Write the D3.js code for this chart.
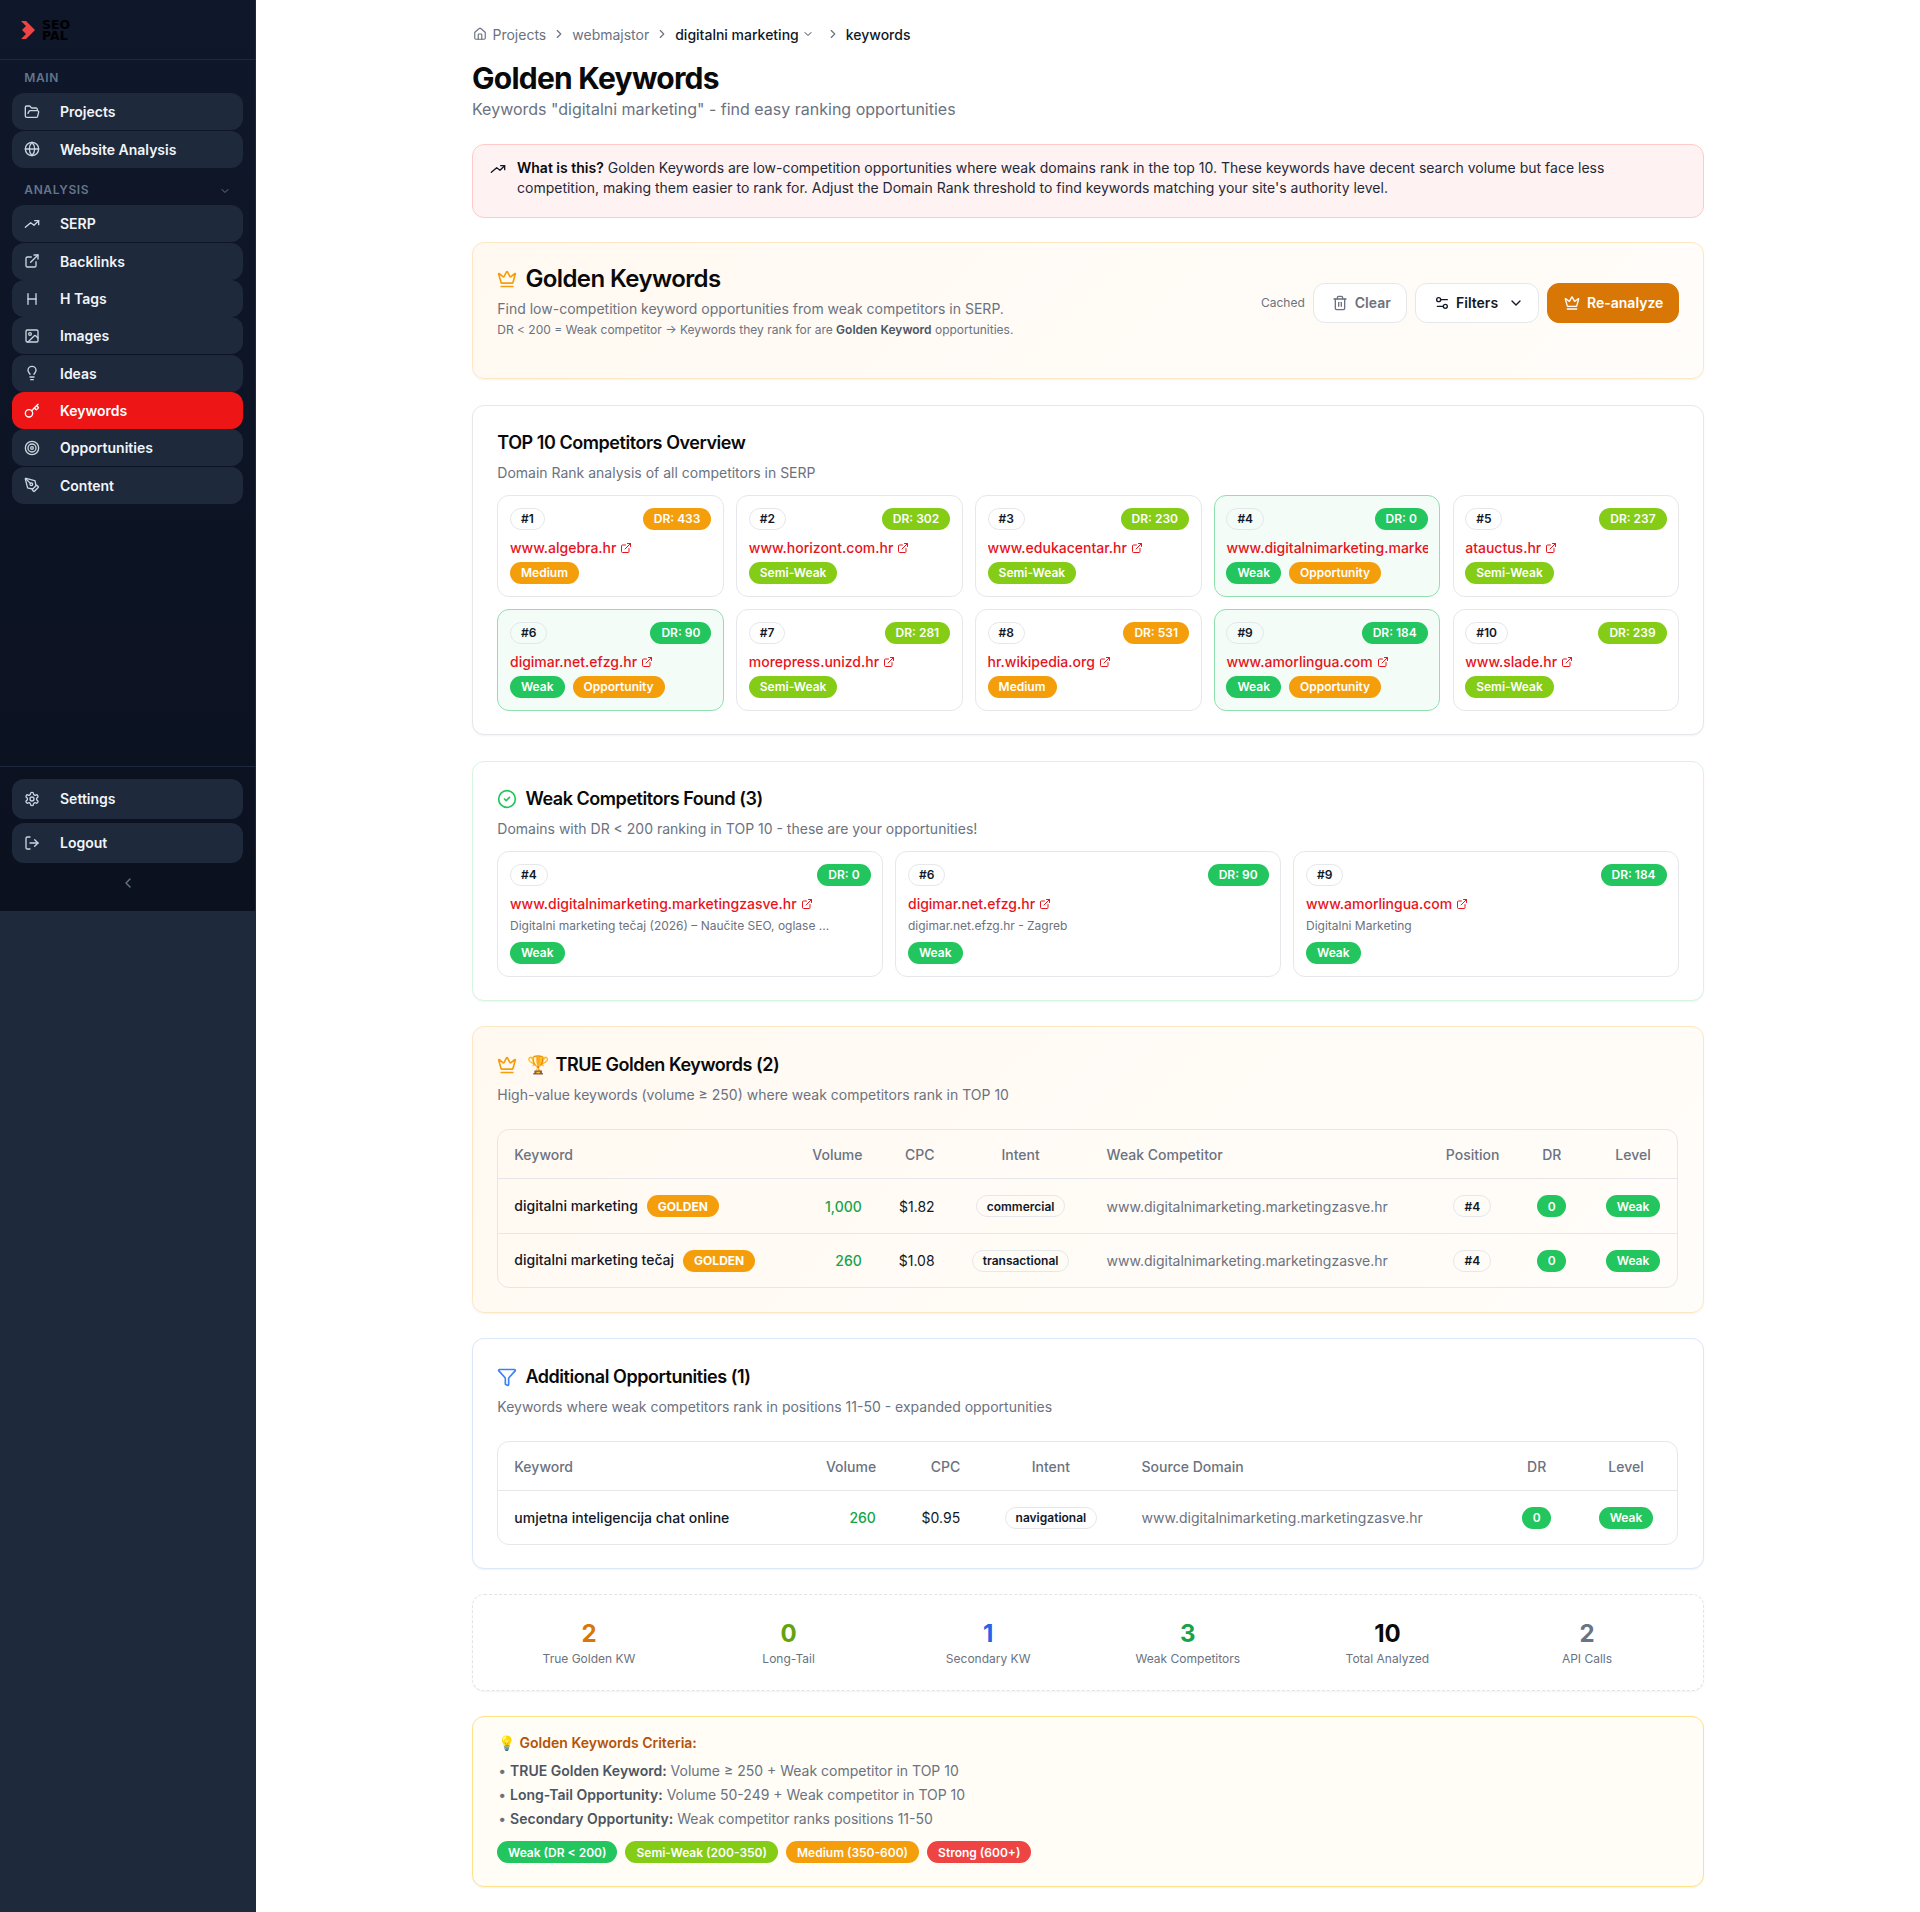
<!DOCTYPE html>
<html>
<head>
<meta charset="utf-8">
<title>Golden Keywords</title>
<script src="https://cdn.jsdelivr.net/npm/d3@7"></script>
<style>
html, body { margin: 0; padding: 0; background: #fff; }
body { font-family: Inter, "Noto Sans", sans-serif; color: #111827; }
#page { position: relative; width: 1920px; height: 1912px; overflow: hidden; background: #fff; }
#page * { box-sizing: border-box; }
.abs { position: absolute; }
.txt { position: absolute; white-space: nowrap; }
svg.ic { fill: none; stroke: currentColor; stroke-width: 2; stroke-linecap: round; stroke-linejoin: round; flex: none; display: block; }
.navitem { position: absolute; left: 12px; width: 231px; height: 37px; border-radius: 12px; background: #1e293b; color: #f1f5f9; font-size: 14px; font-weight: 600; line-height: 37px; }
.navitem.active { background: #ed1515; color: #fff; }
.navitem svg { position: absolute; left: 24px; top: 10px; margin-left: -12px; color: #cbd5e1; }
.navitem.active svg { color: #fff; }
.navitem span { position: absolute; left: 48px; }
.navhead { font-size: 12px; font-weight: 600; letter-spacing: .6px; color: #64748b; }
.card { position: absolute; left: 472px; width: 1231.5px; border: 1px solid #e5e7eb; border-radius: 12px; background: #fff; box-shadow: 0 1px 2px rgba(0,0,0,.05); }
.warm { background: linear-gradient(135deg, #fff9f1 0%, #fffdfa 100%); border-color: #fde6c4; }
.title { font-size: 18px; font-weight: 600; letter-spacing: -.45px; color: #0a0a0a; }
.sub { font-size: 14px; color: #6b7280; }
.pill { display: inline-flex; align-items: center; height: 22px; padding: 0 11px; border-radius: 11px; font-size: 12px; font-weight: 600; color: #fff; white-space: nowrap; }
.pill.outline { border: 1px solid #e5e7eb; color: #111827; padding: 0 10px; background: transparent; }
.comp { position: absolute; border: 1px solid #e5e7eb; border-radius: 12px; background: #fff; padding: 11.7px; }
.comp.hot { background: #f3fcf7; border-color: #8fe0ad; }
.head { display: flex; justify-content: space-between; height: 22px; }
.domain { margin-top: 8px; height: 20px; line-height: 20px; font-size: 14px; font-weight: 500; color: #e8141c; white-space: nowrap; overflow: hidden; }
.domain svg { display: inline-block; vertical-align: -1px; margin-left: 4px; }
.desc { margin-top: 3.7px; height: 16px; line-height: 16px; font-size: 12px; color: #6b7280; white-space: nowrap; }
.badges { display: flex; gap: 8px; margin-top: 4px; }
.desc + .badges { margin-top: 8.3px; }
.tablewrap { position: absolute; left: 497.3px; width: 1181px; border: 1px solid #e5e7eb; border-radius: 12px; overflow: hidden; }
table { border-collapse: separate; border-spacing: 0; table-layout: fixed; width: 1179px; font-size: 14px; }
th { font-weight: 500; color: #6b7280; height: 49px; padding: 0 16px; border-bottom: 1px solid #e5e7eb; }
td { padding: 0 16px; height: 55px; border-bottom: 1px solid #e5e7eb; white-space: nowrap; }
tr:last-child td { border-bottom: 0; height: 53px; }
.l { text-align: left; } .r { text-align: right; } .c { text-align: center; }
.kw { font-weight: 500; color: #111827; }
.kw .pill { margin-left: 9px; font-weight: 700; }
.vol { color: #16a34a; font-weight: 500; }
.src { color: #6b7280; }
.btn { position: absolute; top: 283.3px; height: 39.4px; border-radius: 12px; border: 1px solid #e5e7eb; background: #fff; display: flex; align-items: center; font-size: 14px; font-weight: 600; }
.stat { position: absolute; text-align: center; }
.stat b { display: block; height: 30px; line-height: 30px; font-size: 24px; font-weight: 700; }
.stat span { display: block; height: 16px; margin-top: 2px; line-height: 16px; font-size: 12px; color: #6b7280; }
.crit { font-size: 14px; color: #6b7280; }
.crit b { font-weight: 600; color: #4b5563; }
#legend { position: absolute; left: 497px; top: 1841px; display: flex; gap: 8px; }
</style>
</head>
<body>
<div id="page"></div>
<script>
// sidebar
var mainNav = ["Projects", "Website Analysis"];
var mainIcons = ["folder", "globe"];
var analysisNav = ["SERP", "Backlinks", "H Tags", "Images", "Ideas", "Keywords", "Opportunities", "Content"];
var analysisIcons = ["trend", "external", "heading", "image", "bulb", "key", "target", "pen"];
var activeNav = "Keywords";
var bottomNav = ["Settings", "Logout"];
var bottomIcons = ["gear", "logout"];

// competitors
var competitorRanks = [1, 2, 3, 4, 5, 6, 7, 8, 9, 10];
var competitorDomains = ["www.algebra.hr", "www.horizont.com.hr", "www.edukacentar.hr", "www.digitalnimarketing.marketingzasve.hr", "atauctus.hr", "digimar.net.efzg.hr", "morepress.unizd.hr", "hr.wikipedia.org", "www.amorlingua.com", "www.slade.hr"];
var competitorDR = [433, 302, 230, 0, 237, 90, 281, 531, 184, 239];

var weakRanks = [4, 6, 9];
var weakDescriptions = ["Digitalni marketing tečaj (2026) – Naučite SEO, oglase ...", "digimar.net.efzg.hr - Zagreb", "Digitalni Marketing"];

// true golden table
var goldenHeaders = ["Keyword", "Volume", "CPC", "Intent", "Weak Competitor", "Position", "DR", "Level"];
var goldenKeywords = ["digitalni marketing", "digitalni marketing tečaj"];
var goldenVolumes = [1000, 260];
var goldenCpc = [1.82, 1.08];
var goldenIntents = ["commercial", "transactional"];
var goldenSource = "www.digitalnimarketing.marketingzasve.hr";
var goldenPositions = [4, 4];
var goldenDR = [0, 0];

// additional table
var extraHeaders = ["Keyword", "Volume", "CPC", "Intent", "Source Domain", "DR", "Level"];
var extraKeywords = ["umjetna inteligencija chat online"];
var extraVolumes = [260];
var extraCpc = [0.95];
var extraIntents = ["navigational"];
var extraSources = ["www.digitalnimarketing.marketingzasve.hr"];
var extraDR = [0];

// summary row
var statLabels = ["True Golden KW", "Long-Tail", "Secondary KW", "Weak Competitors", "Total Analyzed", "API Calls"];
var statValues = [2, 0, 1, 3, 10, 2];
var statColors = ["#d97706", "#65a30d", "#2563eb", "#16a34a", "#0a0a0a", "#6b7280"];

var criteria = [
	["TRUE Golden Keyword:", "Volume ≥ 250 + Weak competitor in TOP 10"],
	["Long-Tail Opportunity:", "Volume 50-249 + Weak competitor in TOP 10"],
	["Secondary Opportunity:", "Weak competitor ranks positions 11-50"]
];
var legendLabels = ["Weak (DR < 200)", "Semi-Weak (200-350)", "Medium (350-600)", "Strong (600+)"];
var legendLevels = ["Weak", "Semi-Weak", "Medium", "Strong"];

var levelColor = d3.scaleOrdinal()
	.domain(["Weak", "Semi-Weak", "Medium", "Strong"])
	.range(["#22c55e", "#84cc16", "#f59e0b", "#ef4444"]);
var levelOf = d3.scaleThreshold()
	.domain([200, 350, 600])
	.range(["Weak", "Semi-Weak", "Medium", "Strong"]);

var icons = {
	folder: '<path d="m6 14 1.5-2.9A2 2 0 0 1 9.24 10H20a2 2 0 0 1 1.94 2.5l-1.54 6a2 2 0 0 1-1.95 1.5H4a2 2 0 0 1-2-2V5a2 2 0 0 1 2-2h3.9a2 2 0 0 1 1.69.9l.81 1.2a2 2 0 0 0 1.67.9H18a2 2 0 0 1 2 2v2"/>',
	globe: '<circle cx="12" cy="12" r="10"/><path d="M12 2a14.5 14.5 0 0 0 0 20 14.5 14.5 0 0 0 0-20"/><path d="M2 12h20"/>',
	trend: '<path d="M22 7 15 14 10 10 2 17"/><path d="M16 7h6v6"/>',
	external: '<path d="M15 3h6v6"/><path d="M10 14 21 3"/><path d="M18 13v6a2 2 0 0 1-2 2H5a2 2 0 0 1-2-2V8a2 2 0 0 1 2-2h6"/>',
	heading: '<path d="M6 12h12"/><path d="M6 20V4"/><path d="M18 20V4"/>',
	image: '<rect x="3" y="3" width="18" height="18" rx="2"/><circle cx="9" cy="9" r="2"/><path d="m21 15-3.086-3.086a2 2 0 0 0-2.828 0L6 21"/>',
	bulb: '<path d="M15 14c.2-1 .7-1.7 1.5-2.5 1-.9 1.5-2.2 1.5-3.5A6 6 0 0 0 6 8c0 1 .2 2.2 1.5 3.5.7.7 1.3 1.5 1.5 2.5"/><path d="M9 18h6"/><path d="M10 22h4"/>',
	key: '<path d="m15.5 7.5 2.3 2.3a1 1 0 0 0 1.4 0l2.1-2.1a1 1 0 0 0 0-1.4L19 4"/><path d="m21 2-9.6 9.6"/><circle cx="7.5" cy="15.5" r="5.5"/>',
	target: '<circle cx="12" cy="12" r="10"/><circle cx="12" cy="12" r="6"/><circle cx="12" cy="12" r="2"/>',
	pen: '<path d="M15.707 21.293a1 1 0 0 1-1.414 0l-1.586-1.586a1 1 0 0 1 0-1.414l5.586-5.586a1 1 0 0 1 1.414 0l1.586 1.586a1 1 0 0 1 0 1.414z"/><path d="m18 13-1.375-6.874a1 1 0 0 0-.746-.776L3.235 2.028a1 1 0 0 0-1.207 1.207L5.35 15.879a1 1 0 0 0 .776.746L13 18"/><path d="m2.3 2.3 7.286 7.286"/><circle cx="11" cy="11" r="2"/>',
	gear: '<path d="M12.22 2h-.44a2 2 0 0 0-2 2v.18a2 2 0 0 1-1 1.73l-.43.25a2 2 0 0 1-2 0l-.15-.08a2 2 0 0 0-2.73.73l-.22.38a2 2 0 0 0 .73 2.73l.15.1a2 2 0 0 1 1 1.72v.51a2 2 0 0 1-1 1.74l-.15.09a2 2 0 0 0-.73 2.73l.22.38a2 2 0 0 0 2.73.73l.15-.08a2 2 0 0 1 2 0l.43.25a2 2 0 0 1 1 1.73V20a2 2 0 0 0 2 2h.44a2 2 0 0 0 2-2v-.18a2 2 0 0 1 1-1.73l.43-.25a2 2 0 0 1 2 0l.15.08a2 2 0 0 0 2.73-.73l.22-.39a2 2 0 0 0-.73-2.73l-.15-.08a2 2 0 0 1-1-1.74v-.5a2 2 0 0 1 1-1.74l.15-.09a2 2 0 0 0 .73-2.73l-.22-.38a2 2 0 0 0-2.73-.73l-.15.08a2 2 0 0 1-2 0l-.43-.25a2 2 0 0 1-1-1.73V4a2 2 0 0 0-2-2z"/><circle cx="12" cy="12" r="3"/>',
	logout: '<path d="M9 21H5a2 2 0 0 1-2-2V5a2 2 0 0 1 2-2h4"/><path d="m16 17 5-5-5-5"/><path d="M21 12H9"/>',
	home: '<path d="M15 21v-8a1 1 0 0 0-1-1h-4a1 1 0 0 0-1 1v8"/><path d="M3 10a2 2 0 0 1 .709-1.528l7-5.999a2 2 0 0 1 2.582 0l7 5.999A2 2 0 0 1 21 10v9a2 2 0 0 1-2 2H5a2 2 0 0 1-2-2z"/>',
	right: '<path d="m9 18 6-6-6-6"/>',
	down: '<path d="m6 9 6 6 6-6"/>',
	left: '<path d="m15 18-6-6 6-6"/>',
	crown: '<path d="M11.562 3.266a.5.5 0 0 1 .876 0L15.39 8.87a1 1 0 0 0 1.516.294L21.183 5.5a.5.5 0 0 1 .798.519l-2.834 10.246a1 1 0 0 1-.956.734H5.81a1 1 0 0 1-.957-.734L2.02 6.02a.5.5 0 0 1 .798-.519l4.276 3.664a1 1 0 0 0 1.516-.294z"/><path d="M5 21h14"/>',
	trash: '<path d="M3 6h18"/><path d="M19 6v14c0 1-1 2-2 2H7c-1 0-2-1-2-2V6"/><path d="M8 6V4c0-1 1-2 2-2h4c1 0 2 1 2 2v2"/><path d="M10 11v6"/><path d="M14 11v6"/>',
	sliders: '<path d="M20 7h-9"/><path d="M14 17H5"/><circle cx="17" cy="17" r="3"/><circle cx="7" cy="7" r="3"/>',
	check: '<circle cx="12" cy="12" r="10"/><path d="m9 12 2 2 4-4"/>',
	funnel: '<path d="M10 20a1 1 0 0 0 .553.895l2 1A1 1 0 0 0 14 21v-7a2 2 0 0 1 .517-1.341L21.74 4.67A1 1 0 0 0 21 3H3a1 1 0 0 0-.742 1.67l7.225 7.989A2 2 0 0 1 10 14z"/>'
};

var page = d3.select("#page");

function iconHtml(name, size, color) {
	return '<svg class="ic" viewBox="0 0 24 24" width="' + size + '" height="' + size + '"' +
		(color ? ' style="color:' + color + '"' : '') + '>' + icons[name] + '</svg>';
}

function iconAt(x, cy, name, size, color) {
	return page.append("div").attr("class", "abs")
		.style("left", x + "px").style("top", (cy - size / 2) + "px")
		.html(iconHtml(name, size, color));
}

// text line placed by its vertical center
function label(x, cy, html, cls, lh) {
	lh = lh || 20;
	return page.append("div").attr("class", "txt " + (cls || ""))
		.style("left", x + "px")
		.style("top", (cy - lh / 2) + "px")
		.style("line-height", lh + "px")
		.html(html);
}

function card(top, bottom, cls) {
	return page.append("div").attr("class", "card " + (cls || ""))
		.style("top", top + "px").style("height", (bottom - top) + "px");
}

function pill(sel, text, color) {
	sel.append("span").attr("class", "pill")
		.style("background", color).text(text);
}

function rankPill(sel, rank) {
	sel.append("span").attr("class", "pill outline").text("#" + rank);
}

/* ---------- sidebar ---------- */
page.append("div").attr("class", "abs")
	.style("left", 0).style("top", "911px").style("width", "256px").style("height", "1001px")
	.style("background", "#1e293b");
page.append("div").attr("class", "abs")
	.style("left", 0).style("top", 0).style("width", "256px").style("height", "911px")
	.style("background", "linear-gradient(180deg,#0f172a 0%,#0b111f 100%)")
	.style("border-right", "1px solid #1e293b");
page.append("div").attr("class", "abs")
	.style("left", 0).style("top", "59px").style("width", "255px").style("height", "1px").style("background", "#1e293b");
page.append("div").attr("class", "abs")
	.style("left", 0).style("top", "766px").style("width", "255px").style("height", "1px").style("background", "#1e293b");

// logo
page.append("div").attr("class", "abs")
	.style("left", "20px").style("top", "20px")
	.html('<svg width="16" height="20" viewBox="0 0 16 20"><path d="M1 1h5l9 9-9 9H1l5-5-4-4 4-4z" fill="#ef4444"/></svg>');
label(42, 24.5, "SEO", "", 11).style("font", "800 12.5px/11px 'DejaVu Sans'").style("color", "#000");
label(42, 35, "PAL", "", 11).style("font", "800 12.5px/11px 'DejaVu Sans'").style("color", "#000");

label(24.3, 78, "MAIN", "navhead");
label(24.3, 190, "ANALYSIS", "navhead");
iconAt(219, 190.5, "down", 12, "#64748b");

function navGroup(names, iconNames, y, height) {
	page.selectAll(null)
		.data(names)
		.enter().append("div")
		.attr("class", function(d) { return d === activeNav ? "navitem active" : "navitem"; })
		.style("top", function(d, i) { return y(i) + "px"; })
		.style("height", height + "px")
		.style("line-height", height + "px")
		.html(function(d, i) {
			return iconHtml(iconNames[i], 16).replace("<svg", '<svg style="top:' + (height - 16) / 2 + 'px"') + "<span>" + d + "</span>";
		});
}

var navStep = d3.scaleLinear().domain([0, 1]);
navGroup(mainNav, mainIcons, navStep.copy().range([93.3, 130.65]), 37);
navGroup(analysisNav, analysisIcons, navStep.copy().range([205.3, 242.65]), 37);
navGroup(bottomNav, bottomIcons, navStep.copy().range([779, 823]), 40);
iconAt(120, 883, "left", 16, "#64748b");

/* ---------- header ---------- */
var crumbs = page.append("div").attr("class", "abs")
	.style("left", "472.5px").style("top", "24px").style("height", "20px")
	.style("display", "flex").style("align-items", "center").style("gap", "6px")
	.style("font-size", "14px").style("color", "#6b7280");
crumbs.html(iconHtml("home", 14) +
	'<span>Projects</span>' + iconHtml("right", 14) +
	'<span>webmajstor</span>' + iconHtml("right", 14) +
	'<span style="color:#111827;font-weight:500;margin-right:-3px">digitalni marketing</span>' + iconHtml("down", 12, "#374151") +
	'<span style="width:0"></span>' + iconHtml("right", 14) +
	'<span style="color:#111827;font-weight:500">keywords</span>');

label(472, 77.7, "Golden Keywords", "", 36)
	.style("font-size", "30px").style("font-weight", "700").style("letter-spacing", "-.75px").style("color", "#0a0a0a");
label(472, 108.7, 'Keywords "digitalni marketing" - find easy ranking opportunities', "", 24)
	.style("font-size", "16px").style("color", "#6b7280");

/* ---------- alert ---------- */
page.append("div").attr("class", "abs")
	.style("left", "472px").style("top", "144.3px").style("width", "1231.5px").style("height", "73.4px")
	.style("background", "#fef2f2").style("border", "1px solid #fecaca").style("border-radius", "12px");
iconAt(490, 169, "trend", 16, "#111827");
label(517, 168, "<b style='font-weight:600;color:#0a0a0a'>What is this?</b> Golden Keywords are low-competition opportunities where weak domains rank in the top 10. These keywords have decent search volume but face less")
	.style("font-size", "14px").style("color", "#1f2937");
label(517, 188, "competition, making them easier to rank for. Adjust the Domain Rank threshold to find keywords matching your site's authority level.")
	.style("font-size", "14px").style("color", "#1f2937");

/* ---------- golden keywords header card ---------- */
card(242.3, 379.3, "warm");
iconAt(497.3, 279, "crown", 20, "#f59e0b");
label(525.4, 279, "Golden Keywords", "", 32)
	.style("font-size", "24px").style("font-weight", "600").style("letter-spacing", "-.6px").style("color", "#0a0a0a");
label(497.3, 309.3, "Find low-competition keyword opportunities from weak competitors in SERP.", "sub");
label(497.3, 330, "DR &lt; 200 = Weak competitor → Keywords they rank for are <b style='font-weight:600;color:#4b5563'>Golden Keyword</b> opportunities.", "sub", 16)
	.style("font-size", "12px");

label(1261, 302.7, "Cached", "sub", 16).style("font-size", "12px");
page.append("div").attr("class", "btn")
	.style("left", "1313.3px").style("width", "93.4px").style("padding-left", "17.5px").style("gap", "7px").style("color", "#6b7280")
	.html(iconHtml("trash", 16) + "<span>Clear</span>");
page.append("div").attr("class", "btn")
	.style("left", "1415px").style("width", "123.7px").style("padding-left", "18px").style("gap", "6px").style("color", "#111827")
	.html(iconHtml("sliders", 16) + "<span>Filters</span>" + iconHtml("down", 16).replace("<svg", '<svg style="margin-left:4px"'));
page.append("div").attr("class", "btn")
	.style("left", "1547px").style("width", "132px").style("padding-left", "16px").style("gap", "7px")
	.style("background", "#d97706").style("border-color", "#d97706").style("color", "#fff")
	.html(iconHtml("crown", 16) + "<span>Re-analyze</span>");

/* ---------- top 10 overview ---------- */
card(404.7, 735.3);
label(497.3, 442.7, "TOP 10 Competitors Overview", "title", 28);
label(497.3, 473.3, "Domain Rank analysis of all competitors in SERP", "sub");

var topX = d3.scaleBand().domain(d3.range(5)).range([497.3, 1679.3]).paddingInner(0.0503);
var topY = d3.scaleBand().domain(d3.range(2)).range([495.3, 710.7]).paddingInner(0.1085);

var competitors = competitorRanks.map(function(r, i) {
	return { rank: r, domain: competitorDomains[i], dr: competitorDR[i], level: levelOf(competitorDR[i]) };
});

var topCards = page.selectAll(null)
	.data(competitors)
	.enter().append("div")
	.attr("class", function(d) { return d.level === "Weak" ? "comp hot" : "comp"; })
	.style("left", function(d, i) { return topX(i % 5) + "px"; })
	.style("top", function(d, i) { return topY(Math.floor(i / 5)) + "px"; })
	.style("width", topX.bandwidth() + "px")
	.style("height", topY.bandwidth() + "px");

function cardHead(sel) {
	var head = sel.append("div").attr("class", "head");
	head.each(function(d) {
		var h = d3.select(this);
		rankPill(h, d.rank);
		pill(h, "DR: " + d.dr, levelColor(d.level));
	});
}

function cardDomain(sel) {
	sel.append("div").attr("class", "domain")
		.html(function(d) { return d.domain + iconHtml("external", 12).replace('class="ic"', 'class="ic" style="display:inline-block"'); });
}

cardHead(topCards);
cardDomain(topCards);
topCards.append("div").attr("class", "badges").each(function(d) {
	var b = d3.select(this);
	pill(b, d.level, levelColor(d.level));
	if (d.level === "Weak") pill(b, "Opportunity", "#f59e0b");
});

/* ---------- weak competitors ---------- */
card(760.7, 1001.3).style("border-color", "#d6f5e0");
iconAt(497.3, 799, "check", 20, "#22c55e");
label(525.4, 799, "Weak Competitors Found (3)", "title", 28);
label(497.3, 829.3, "Domains with DR &lt; 200 ranking in TOP 10 - these are your opportunities!", "sub");

var weakX = d3.scaleBand().domain(d3.range(3)).range([497.3, 1679.3]).paddingInner(0.0302);
var weakCards = page.selectAll(null)
	.data(weakRanks.map(function(r, i) {
		var c = competitors[r - 1];
		return { rank: r, domain: c.domain, dr: c.dr, level: c.level, desc: weakDescriptions[i] };
	}))
	.enter().append("div")
	.attr("class", "comp")
	.style("left", function(d, i) { return weakX(i) + "px"; })
	.style("top", "851.3px")
	.style("width", weakX.bandwidth() + "px")
	.style("height", "125.4px");

cardHead(weakCards);
cardDomain(weakCards);
weakCards.append("div").attr("class", "desc").text(function(d) { return d.desc; });
weakCards.append("div").attr("class", "badges").each(function(d) {
	pill(d3.select(this), d.level, levelColor(d.level));
});

/* ---------- tables ---------- */
function makeTable(top, height, headers, aligns, widths, rows) {
	var wrap = page.append("div").attr("class", "tablewrap")
		.style("top", top + "px").style("height", height + "px");
	var table = wrap.append("table");
	table.append("colgroup").selectAll("col").data(widths).enter().append("col")
		.style("width", function(d) { return d + "px"; });
	table.append("thead").append("tr").selectAll("th")
		.data(headers).enter().append("th")
		.attr("class", function(d, i) { return aligns[i]; })
		.text(function(d) { return d; });
	table.append("tbody").selectAll("tr")
		.data(rows).enter().append("tr")
		.selectAll("td")
		.data(function(d) { return d; })
		.enter().append("td")
		.attr("class", function(d, i) { return aligns[i]; })
		.html(function(d) { return d; });
}

function pillHtml(text, color) {
	return '<span class="pill" style="background:' + color + '">' + text + '</span>';
}
function outlineHtml(text) {
	return '<span class="pill outline">' + text + '</span>';
}
function drHtml(dr) {
	return '<span class="pill" style="background:' + levelColor(levelOf(dr)) + ';padding:0 10.5px">' + dr + '</span>';
}

card(1026.3, 1313.3, "warm");
iconAt(497.3, 1065, "crown", 20, "#f59e0b");
label(527, 1065, "🏆", "", 24).style("font-size", "18px");
label(555.5, 1065, "TRUE Golden Keywords (2)", "title", 28);
label(497.3, 1095, "High-value keywords (volume ≥ 250) where weak competitors rank in TOP 10", "sub");

makeTable(1129.3, 159, goldenHeaders,
	["l", "r", "r", "c", "l", "c", "c", "c"],
	[298, 81.5, 72.8, 140, 339.2, 85, 74, 88.5],
	goldenKeywords.map(function(k, i) {
		return [
			'<span class="kw">' + k + '<span class="pill" style="background:#f59e0b">GOLDEN</span></span>',
			'<span class="vol">' + d3.format(",")(goldenVolumes[i]) + '</span>',
			"$" + goldenCpc[i].toFixed(2),
			outlineHtml(goldenIntents[i]),
			'<span class="src">' + goldenSource + '</span>',
			outlineHtml("#" + goldenPositions[i]),
			drHtml(goldenDR[i]),
			pillHtml(levelOf(goldenDR[i]), levelColor(levelOf(goldenDR[i])))
		];
	}));

card(1338.3, 1569.3).style("border-color", "#dbe7fb");
iconAt(497.3, 1376.7, "funnel", 20, "#3b82f6");
label(525.4, 1376.7, "Additional Opportunities (1)", "title", 28);
label(497.3, 1407.3, "Keywords where weak competitors rank in positions 11-50 - expanded opportunities", "sub");

makeTable(1441.3, 104, extraHeaders,
	["l", "r", "r", "c", "l", "c", "c"],
	[311.6, 82, 84.3, 149.4, 373.1, 76, 102.6],
	extraKeywords.map(function(k, i) {
		return [
			'<span class="kw">' + k + '</span>',
			'<span class="vol">' + extraVolumes[i] + '</span>',
			"$" + extraCpc[i].toFixed(2),
			outlineHtml(extraIntents[i]),
			'<span class="src">' + extraSources[i] + '</span>',
			drHtml(extraDR[i]),
			pillHtml(levelOf(extraDR[i]), levelColor(levelOf(extraDR[i])))
		];
	}));

/* ---------- summary ---------- */
card(1594.3, 1691.3).style("border", "1px dashed #e1e3e8");
var statX = d3.scaleBand().domain(d3.range(statLabels.length)).range([489.2, 1686.8]);
var stats = page.selectAll(null)
	.data(statLabels)
	.enter().append("div").attr("class", "stat")
	.style("left", function(d, i) { return statX(i) + "px"; })
	.style("top", "1619.3px")
	.style("width", statX.bandwidth() + "px");
stats.append("b")
	.style("color", function(d, i) { return statColors[i]; })
	.text(function(d, i) { return statValues[i]; });
stats.append("span").text(function(d) { return d; });

/* ---------- criteria ---------- */
card(1716.3, 1887.3).style("background", "#fffdf6").style("border-color", "#fde28a");
label(498, 1743.3, "💡", "", 20).style("font-size", "14px");
label(519.6, 1743.3, "Golden Keywords Criteria:").style("font-size", "14px").style("font-weight", "600").style("color", "#b45309");

var critY = d3.scalePoint().domain(d3.range(criteria.length)).range([1771.3, 1819.3]);
page.selectAll(null)
	.data(criteria)
	.enter().append("div")
	.attr("class", "txt crit")
	.style("left", "498.3px")
	.style("top", function(d, i) { return (critY(i) - 10) + "px"; })
	.style("line-height", "20px")
	.html(function(d) { return "• <b>" + d[0] + "</b> " + d[1]; });

d3.select("#page").append("div").attr("id", "legend")
	.selectAll("span")
	.data(legendLabels)
	.enter().append("span").attr("class", "pill")
	.style("background", function(d, i) { return levelColor(legendLevels[i]); })
	.text(function(d) { return d; });
</script>
</body>
</html>
